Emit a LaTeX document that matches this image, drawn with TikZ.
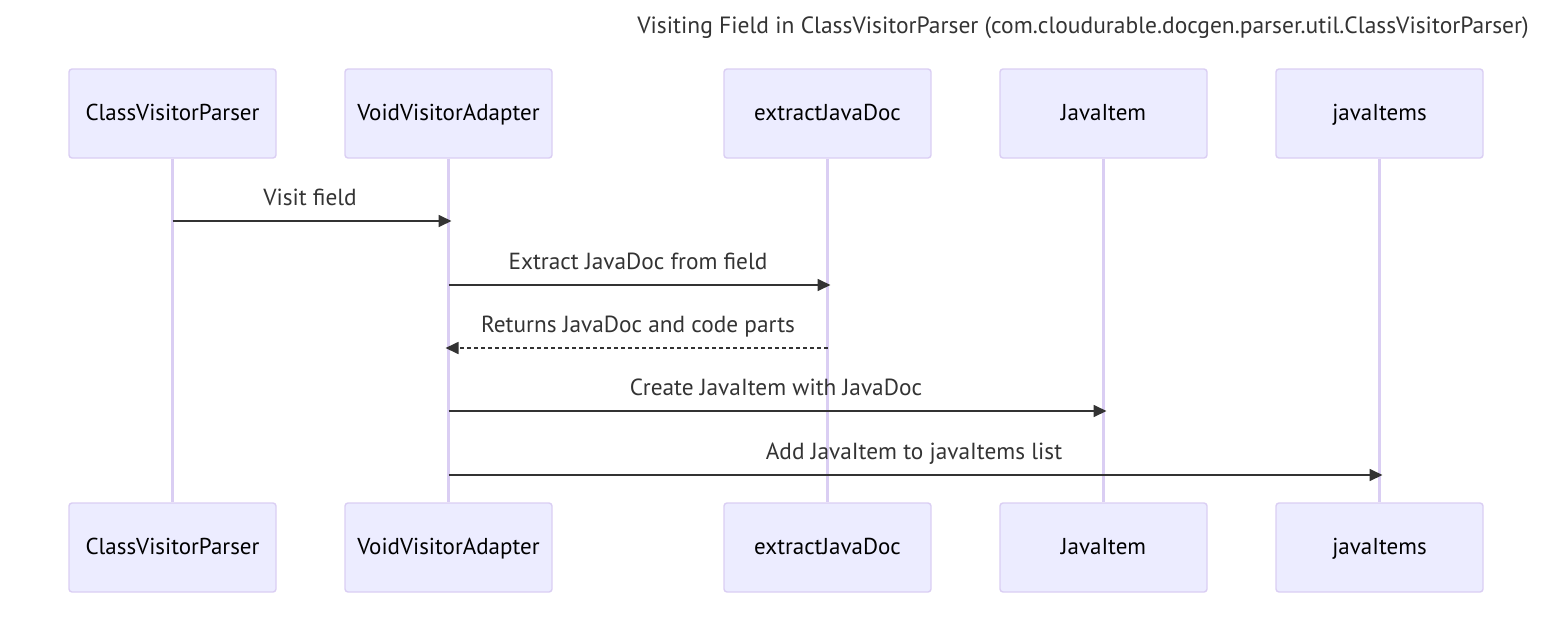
\documentclass[tikz,border=0pt]{standalone}
\usepackage{fontspec}
\setmainfont{PT Sans}
\usetikzlibrary{arrows.meta}
\definecolor{actfill}{HTML}{ECECFF}
\definecolor{actline}{HTML}{DACEF3}
\definecolor{msgc}{HTML}{333333}
\tikzset{
  actor/.style={draw=actline, line width=1.4pt, fill=actfill, rounded corners=3pt,
    minimum width=207pt, minimum height=89pt, inner sep=0pt, font=\fontsize{23}{27}\selectfont, text=black,
    text height=1.5em, text depth=0.2em},
  life/.style={draw=actline, line width=2.2pt},
  msg/.style={draw=msgc, line width=1.7pt, -{Triangle[length=13pt,width=12pt]}, shorten >=-3pt},
  msgtxt/.style={font=\fontsize{23.3}{27}\selectfont, text=msgc, inner sep=0pt, text height=1.5em, text depth=0.2em},
}
\begin{document}
\begin{tikzpicture}[x=1pt,y=-1pt]
\useasboundingbox (0,0) rectangle (1568,616);
\node[msgtxt, font=\fontsize{23.5}{27}\selectfont] (title) at (1083,27) {Visiting Field in ClassVisitorParser (com.cloudurable.docgen.parser.util.ClassVisitorParser)};
% top actors
\node[actor] (a1) at (172.5,113.5) {ClassVisitorParser};
\node[actor] (a2) at (448.5,113.5) {VoidVisitorAdapter};
\node[actor] (a3) at (827.5,113.5) {extractJavaDoc};
\node[actor] (a4) at (1103.5,113.5) {JavaItem};
\node[actor] (a5) at (1379.5,113.5) {javaItems};
% bottom actors
\node[actor] (b1) at (172.5,547.5) {ClassVisitorParser};
\node[actor] (b2) at (448.5,547.5) {VoidVisitorAdapter};
\node[actor] (b3) at (827.5,547.5) {extractJavaDoc};
\node[actor] (b4) at (1103.5,547.5) {JavaItem};
\node[actor] (b5) at (1379.5,547.5) {javaItems};
% lifelines
\foreach \i in {1,...,5}{ \draw[life] (a\i.south) -- (b\i.north); }
% messages
\coordinate (m1s) at (a1.south |- 0,221); \coordinate (m1e) at (a2.south |- 0,221);
\draw[msg] (m1s) -- (m1e);
\node[msgtxt] (t1) at (310,199) {Visit field};
\coordinate (m2s) at (a2.south |- 0,285); \coordinate (m2e) at (a3.south |- 0,285);
\draw[msg] (m2s) -- (m2e);
\node[msgtxt] (t2) at (638,263) {Extract JavaDoc from field};
\coordinate (m3s) at (a3.south |- 0,348); \coordinate (m3e) at (a2.south |- 0,348);
\draw[msg, dash pattern=on 4pt off 3pt] (m3s) -- (m3e);
\node[msgtxt] (t3) at (638,326) {Returns JavaDoc and code parts};
\coordinate (m4s) at (a2.south |- 0,411); \coordinate (m4e) at (a4.south |- 0,411);
\draw[msg] (m4s) -- (m4e);
\node[msgtxt] (t4) at (776,389) {Create JavaItem with JavaDoc};
\coordinate (m5s) at (a2.south |- 0,475); \coordinate (m5e) at (a5.south |- 0,475);
\draw[msg] (m5s) -- (m5e);
\node[msgtxt] (t5) at (914,453) {Add JavaItem to javaItems list};
\end{tikzpicture}
\end{document}
